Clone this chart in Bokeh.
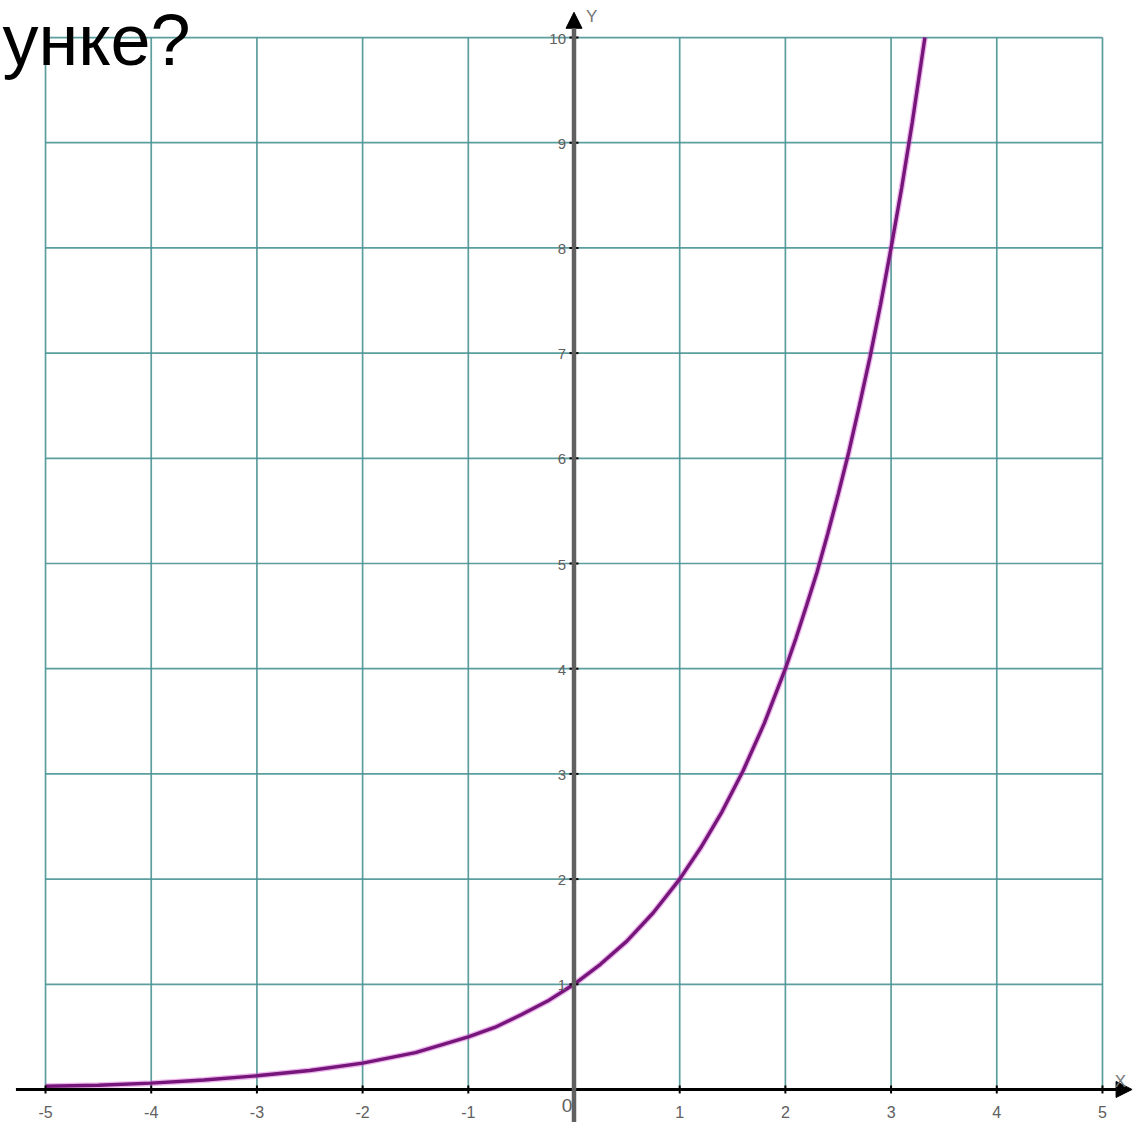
import math
from bokeh.plotting import figure
from bokeh.models import Range1d, Arrow, NormalHead, Label
from bokeh.core.properties import value
from bokeh.embed import file_html
from bokeh.resources import INLINE

# ---- data (y = 2^x curve) ----
curve_x = [-5, -4.5, -4, -3.5, -3, -2.5, -2, -1.5, -1, -0.75, -0.5, -0.25, 0,
           0.25, 0.5, 0.75, 1, 1.2, 1.4, 1.6, 1.8, 2, 2.1, 2.2, 2.3, 2.4, 2.5, 2.6,
           2.7, 2.8, 2.9, 3, 3.1, 3.2, 3.32]
curve_y = [0.03, 0.04, 0.06, 0.09, 0.13, 0.18, 0.25, 0.35, 0.5, 0.59, 0.71, 0.84, 1.0,
           1.19, 1.41, 1.68, 2.0, 2.3, 2.64, 3.03, 3.48, 4.0, 4.29, 4.6, 4.92, 5.28, 5.66,
           6.06, 6.5, 6.96, 7.46, 8.0, 8.57, 9.19, 10.0]

x_ticks = [-5, -4, -3, -2, -1, 0, 1, 2, 3, 4, 5]
y_ticks = [0, 1, 2, 3, 4, 5, 6, 7, 8, 9, 10]
x_labels = ["-5", "-4", "-3", "-2", "-1", "1", "2", "3", "4", "5"]
x_label_pos = [-5, -4, -3, -2, -1, 1, 2, 3, 4, 5]
y_labels = ["1", "2", "3", "4", "5", "6", "7", "8", "9", "10"]
y_label_pos = [1, 2, 3, 4, 5, 6, 7, 8, 9, 10]
title_text = "унке?"

W, H = 1134, 1132
p = figure(width=W, height=H, output_backend="svg", toolbar_location=None,
           x_range=Range1d(-5.426, 5.303), y_range=Range1d(-0.409, 10.352),
           x_axis_type=None, y_axis_type=None, min_border=0)
p.grid.visible = False
p.outline_line_color = None
p.background_fill_color = "white"
p.border_fill_color = "white"

grid_color = "#4a9494"
# vertical grid lines
p.segment(x0=x_ticks, y0=[min(y_ticks)] * len(x_ticks), x1=x_ticks, y1=[max(y_ticks)] * len(x_ticks),
          line_color=grid_color, line_width=1.7, line_alpha=0.9)
# horizontal grid lines
p.segment(x0=[min(x_ticks)] * len(y_ticks), y0=y_ticks, x1=[max(x_ticks)] * len(y_ticks), y1=y_ticks,
          line_color=grid_color, line_width=1.7, line_alpha=0.9)

# curve
p.line(curve_x, curve_y, line_color="#d24ad2", line_width=6, line_alpha=0.4)
p.line(curve_x, curve_y, line_color="#76157a", line_width=3.4)

# axes
p.add_layout(Arrow(end=NormalHead(size=16, fill_color="black", line_color="black"),
                   x_start=-5.28, y_start=0, x_end=5.28, y_end=0,
                   line_color="black", line_width=3))
p.add_layout(Arrow(end=NormalHead(size=16, fill_color="black", line_color="black"),
                   x_start=0, y_start=-0.31, x_end=0, y_end=10.24,
                   line_color="#606060", line_width=4.5))

# tick marks
p.scatter(x_label_pos, [0] * len(x_label_pos), marker="dash", angle=math.pi / 2, size=8,
          line_color="black", line_width=2)
p.scatter([0] * len(y_label_pos), y_label_pos, marker="dash", size=9,
          line_color="black", line_width=2)

# tick labels
font = value("Liberation Sans")
p.text(x=x_label_pos, y=[0] * len(x_label_pos), text=x_labels, text_font=font,
       text_font_size="16px", text_color="#606060", text_align="center",
       text_baseline="middle", y_offset=23)
p.text(x=[0], y=[0], text=["0"], text_font=font, text_font_size="19px",
       text_color="#606060", text_align="center", text_baseline="middle",
       x_offset=-7, y_offset=16)
p.text(x=[0] * len(y_label_pos), y=y_label_pos, text=y_labels, text_font=font,
       text_font_size="15px", text_color="#606060", text_align="right",
       text_baseline="middle", x_offset=-8, y_offset=1)

# axis names
p.add_layout(Label(x=5.17, y=0, text="X", text_font="Liberation Sans", text_font_size="17px",
                   text_color="#777777", text_align="center", text_baseline="middle",
                   y_offset=8))
p.add_layout(Label(x=0, y=10.24, text="Y", text_font="Liberation Sans", text_font_size="17px",
                   text_color="#777777", text_align="left", text_baseline="middle",
                   x_offset=12, y_offset=-4))

# heading fragment at top-left
p.add_layout(Label(x=2, y=H - 39, x_units="screen", y_units="screen", text=title_text,
                   text_font="Liberation Sans", text_font_size="72px", text_color="black",
                   text_align="left", text_baseline="alphabetic"))

open("out.html", "w").write(file_html(p, INLINE))
